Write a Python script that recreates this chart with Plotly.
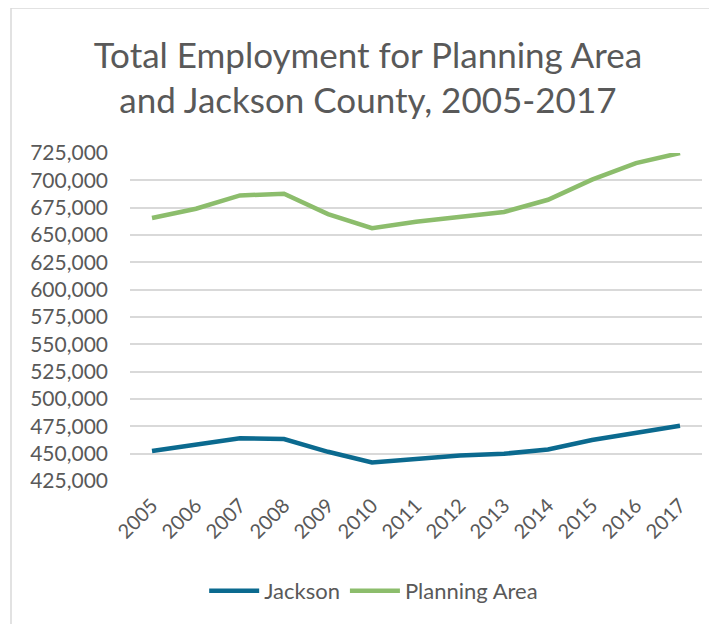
"""Total employment line chart, Planning Area vs Jackson County."""
import plotly.graph_objects as go

years = [str(y) for y in range(2005, 2018)]
jackson = [452400, 457900, 464000, 463400, 451700, 442000, 445000,
           448400, 449900, 453900, 462500, 469200, 475600]
planning_area = [665500, 674000, 686200, 687700, 669100, 656300, 662100,
                 666400, 671000, 682200, 700600, 715800, 725000]
y_ticks = list(range(425000, 725001, 25000))

FONT = "Lato"
GRAY = "#595959"

# plot area in figure pixels (page body adds 8px offset)
L, T, PW, PH = 122, 145, 572, 328
B = T + PH

fig = go.Figure()
fig.add_trace(go.Scatter(x=years, y=jackson, name="Jackson", mode="lines",
                         line=dict(color="#0B6A8F", width=4.5)))
fig.add_trace(go.Scatter(x=years, y=planning_area, name="Planning Area", mode="lines",
                         line=dict(color="#8CBD6C", width=4.5)))

# chart frame (only top and left edges are visible in the crop)
fx, fy = (3 - L) / PW, (B - 0) / PH
fig.add_shape(type="line", xref="paper", yref="paper",
              x0=fx, x1=(760 - L) / PW, y0=fy, y1=fy,
              line=dict(color="#D9D9D9", width=1.5))
fig.add_shape(type="line", xref="paper", yref="paper",
              x0=fx, x1=fx, y0=fy, y1=(B - 660) / PH,
              line=dict(color="#D9D9D9", width=1.5))

fig.update_layout(
    width=717, height=624,
    margin=dict(l=L, r=717 - L - PW, t=T, b=624 - B, autoexpand=False),
    paper_bgcolor="white", plot_bgcolor="white",
    font=dict(family=FONT, color=GRAY),
    title=dict(text="Total Employment for Planning Area<br>and Jackson County, 2005-2017",
               x=0.502, xanchor="center", y=0.904, yanchor="middle",
               font=dict(family=FONT, size=35, color=GRAY)),
    legend=dict(orientation="h", x=0.426, xanchor="center", y=-0.335, yanchor="middle",
                font=dict(size=22, color=GRAY), itemwidth=50),
    showlegend=True,
)
fig.update_xaxes(type="category", range=[-0.5, len(years) - 0.5], tickangle=-45,
                 showgrid=False, showline=False, ticks="", automargin=False,
                 tickfont=dict(size=20, color=GRAY), ticklabelstandoff=8)
fig.update_yaxes(range=[425000, 725000], tickvals=y_ticks, tickformat=",",
                 showgrid=True, gridcolor="#D9D9D9", gridwidth=1.5,
                 zeroline=False, showline=False, ticks="", automargin=False,
                 tickfont=dict(size=21, color=GRAY), ticklabelstandoff=21)

fig.write_html("out.html")
